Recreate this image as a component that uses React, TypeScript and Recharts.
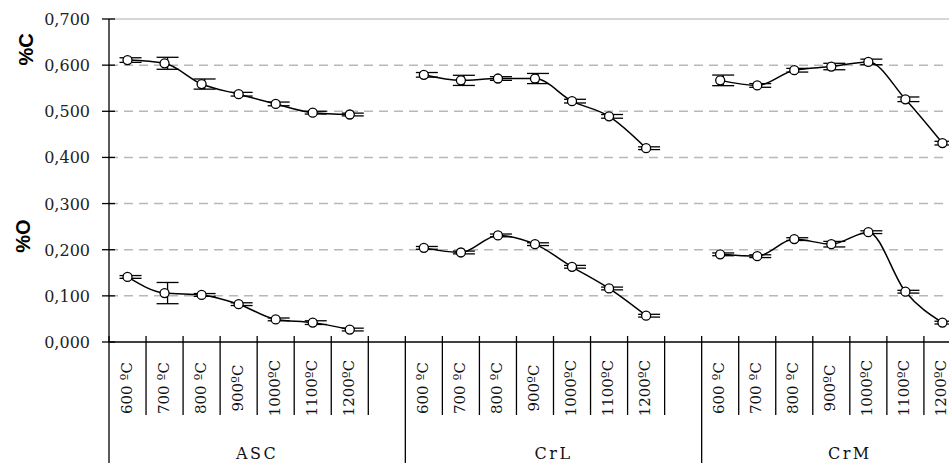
import React from 'react';
import { LineChart, Line, XAxis, YAxis, ErrorBar, ReferenceLine } from 'recharts';

const groups = ['ASC', 'CrL', 'CrM'];
const temps = ['600 ºC', '700 ºC', '800 ºC', '900ºC', '1000ºC', '1100ºC', '1200ºC'];

const carbon: Record<string, number[]> = {
  ASC: [0.611, 0.604, 0.559, 0.537, 0.516, 0.497, 0.493],
  CrL: [0.579, 0.567, 0.571, 0.571, 0.522, 0.489, 0.42],
  CrM: [0.567, 0.556, 0.589, 0.597, 0.607, 0.526, 0.431],
};
const carbonErr: Record<string, number[]> = {
  ASC: [0.005, 0.013, 0.011, 0.004, 0.004, 0.003, 0.003],
  CrL: [0.005, 0.011, 0.004, 0.011, 0.004, 0.004, 0.003],
  CrM: [0.0115, 0.004, 0.004, 0.007, 0.006, 0.005, 0.004],
};
const oxygen: Record<string, number[]> = {
  ASC: [0.141, 0.106, 0.102, 0.082, 0.049, 0.042, 0.027],
  CrL: [0.204, 0.194, 0.231, 0.212, 0.163, 0.116, 0.057],
  CrM: [0.19, 0.186, 0.223, 0.212, 0.238, 0.109, 0.042],
};
const oxygenErr: Record<string, number[]> = {
  ASC: [0.003, 0.023, 0.003, 0.003, 0.003, 0.004, 0.003],
  CrL: [0.003, 0.003, 0.003, 0.003, 0.003, 0.003, 0.003],
  CrM: [0.003, 0.003, 0.003, 0.006, 0.003, 0.003, 0.003],
};

const yTicks = [0, 0.1, 0.2, 0.3, 0.4, 0.5, 0.6, 0.7];
const gridLines = [0.1, 0.2, 0.3, 0.4, 0.5, 0.6];

// 7 temperatures + one empty slot per group
const SLOTS = temps.length + 1;
const rows: any[] = [];
groups.forEach((g) => {
  for (let k = 0; k < SLOTS; k++) {
    const has = k < temps.length;
    rows.push({
      id: rows.length,
      group: g,
      temp: has ? temps[k] : '',
      c: has ? carbon[g][k] : null,
      cErr: has ? carbonErr[g][k] : null,
      o: has ? oxygen[g][k] : null,
      oErr: has ? oxygenErr[g][k] : null,
    });
  }
});

const serif = '"DejaVu Serif", serif';
const fmt = (v: number) => v.toFixed(3).replace('.', ',');

const YTick = ({ x, y, payload }: any) => (
  <g>
    <line x1={x - 7} x2={x + 6} y1={y} y2={y} stroke="#000" strokeWidth={1.3} />
    <text x={x - 19} y={y + 6} textAnchor="end" fontFamily={serif} fontSize={16} fill="#222">
      {fmt(payload.value)}
    </text>
  </g>
);

const XTick = ({ x, y, payload }: any) => {
  const i = payload.value as number;
  const row = rows[i];
  const off = payload.offset || 18.5;
  const k = i % SLOTS;
  const xl = x - off;
  return (
    <g>
      <line x1={xl} x2={xl} y1={y - 6} y2={y} stroke="#000" strokeWidth={1.3} />
      <line x1={xl} x2={xl} y1={y} y2={k === 0 ? y + 125 : y + 73} stroke="#000" strokeWidth={1.3} />
      {row.temp && (
        <text
          transform={`translate(${x + 4},${y + 46}) rotate(-90)`}
          textAnchor="middle"
          fontFamily={serif}
          fontSize={15}
          fill="#111"
        >
          {row.temp}
        </text>
      )}
      {k === 3 && (
        <text x={x + off} y={y + 117} textAnchor="middle" fontFamily={serif} fontSize={16} letterSpacing={2.5} fill="#111">
          {row.group}
        </text>
      )}
    </g>
  );
};

const dotStyle = { r: 4.5, fill: '#fff', stroke: '#000', strokeWidth: 1.3 };

export default function App() {
  return (
    <div style={{ position: 'fixed', left: 0, top: 0, width: 949, height: 463, overflow: 'hidden', background: '#fff' }}>
      <LineChart width={1010} height={463} data={rows} margin={{ top: 19, right: 12, bottom: 0, left: 0 }}>
        {gridLines.map((v) => (
          <ReferenceLine key={v} y={v} stroke="#b8b8b8" strokeWidth={1.5} strokeDasharray="9 6" />
        ))}
        <ReferenceLine y={0.7} stroke="#c8c8c8" strokeWidth={1.3} />
        <XAxis
          dataKey="id"
          type="category"
          scale="band"
          interval={0}
          height={121}
          tickSize={0}
          tickMargin={0}
          tickLine={false}
          axisLine={{ stroke: '#000', strokeWidth: 1.3 }}
          tick={<XTick />}
        />
        <YAxis
          width={109}
          domain={[0, 0.7]}
          ticks={yTicks}
          interval={0}
          tickSize={0}
          tickMargin={0}
          tickLine={false}
          axisLine={{ stroke: '#000', strokeWidth: 1.3 }}
          tick={<YTick />}
        />
        <Line dataKey="c" type="monotone" stroke="#000" strokeWidth={1.5} dot={dotStyle} activeDot={false} isAnimationActive={false}>
          <ErrorBar dataKey="cErr" width={11} stroke="#000" strokeWidth={1.3} direction="y" transform="translate(3,0)" />
        </Line>
        <Line dataKey="o" type="monotone" stroke="#000" strokeWidth={1.5} dot={dotStyle} activeDot={false} isAnimationActive={false}>
          <ErrorBar dataKey="oErr" width={11} stroke="#000" strokeWidth={1.3} direction="y" transform="translate(3,0)" />
        </Line>
      </LineChart>
      <svg width={60} height={463} style={{ position: 'absolute', left: 0, top: 0 }}>
        <text transform="translate(33,49.5) rotate(-90)" textAnchor="middle" fontFamily='"Liberation Sans", Arial, sans-serif' fontWeight="bold" fontSize={20}>
          %C
        </text>
        <text transform="translate(30,236) rotate(-90)" textAnchor="middle" fontFamily='"Liberation Sans", Arial, sans-serif' fontWeight="bold" fontSize={20}>
          %O
        </text>
      </svg>
    </div>
  );
}
